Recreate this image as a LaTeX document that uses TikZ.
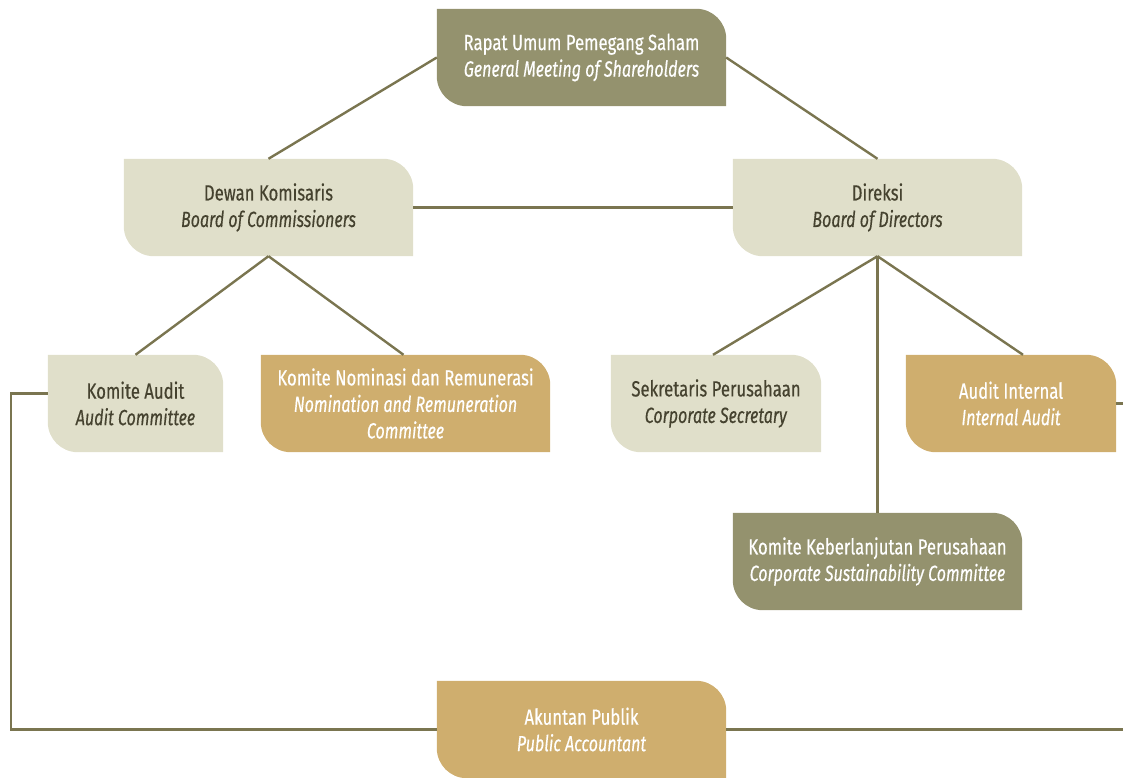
\documentclass[tikz,border=0pt]{standalone}
\usepackage{fontspec}
\setmainfont{Fira Sans}[FakeStretch=0.76,FakeBold=0.4,ItalicFeatures={FakeStretch=0.73}]
\usetikzlibrary{backgrounds,calc}
\definecolor{olivedark}{HTML}{94926E}
\definecolor{lightbox}{HTML}{E0DFCA}
\definecolor{goldbox}{HTML}{CFAE6E}
\definecolor{linecol}{HTML}{7A7550}
\definecolor{darktext}{HTML}{45422F}
\tikzset{
  orgbox/.style={minimum height=97pt, inner sep=0pt, align=center, font=\fontsize{22}{26.5}\selectfont},
  ondark/.style={orgbox, text=white},
  onlight/.style={orgbox, text=darktext},
  link/.style={draw=linecol, line width=2.4pt},
}
\newcommand\boxshape[2]{%
  \fill[#2] (#1.north west) -- ([xshift=-30pt]#1.north east) arc[start angle=90,end angle=0,radius=30pt] -- (#1.south east) -- ([xshift=30pt]#1.south west) arc[start angle=270,end angle=180,radius=30pt] -- cycle;}
\begin{document}
\begin{tikzpicture}[x=1pt,y=1pt]
\useasboundingbox (0,0) rectangle (1123,777);
\node[ondark, minimum width=289pt] (gms) at (581.5,719.5) {Rapat Umum Pemegang Saham\\\textit{General Meeting of Shareholders}};
\node[onlight, minimum width=289pt] (dk) at (268.5,569.5) {Dewan Komisaris\\\textit{Board of Commissioners}};
\node[onlight, minimum width=289pt] (dir) at (877.5,569.5) {Direksi\\\textit{Board of Directors}};
\node[onlight, minimum width=175pt] (ka) at (135.5,373.5) {Komite Audit\\\textit{Audit Committee}};
\node[ondark, minimum width=289pt] (knr) at (405.5,373.5) {Komite Nominasi dan Remunerasi\\\textit{Nomination and Remuneration}\\\textit{Committee}};
\node[onlight, minimum width=210pt] (sp) at (716,373.5) {Sekretaris Perusahaan\\\textit{Corporate Secretary}};
\node[ondark, minimum width=210pt] (ai) at (1011,373.5) {Audit Internal\\\textit{Internal Audit}};
\node[ondark, minimum width=289pt] (kkp) at (877.5,215.5) {Komite Keberlanjutan Perusahaan\\\textit{Corporate Sustainability Committee}};
\node[ondark, minimum width=289pt] (ap) at (581.5,47.5) {Akuntan Publik\\\textit{Public Accountant}};
\coordinate (leftx) at (11,0);
\coordinate (rtop) at (1123,373.5);
\coordinate (rbot) at (1123,47.5);
\begin{scope}[on background layer]
\boxshape{gms}{olivedark}
\boxshape{dk}{lightbox}
\boxshape{dir}{lightbox}
\boxshape{ka}{lightbox}
\boxshape{knr}{goldbox}
\boxshape{sp}{lightbox}
\boxshape{ai}{goldbox}
\boxshape{kkp}{olivedark}
\boxshape{ap}{goldbox}
\end{scope}
\draw[link] (gms.west) -- (dk.north);
\draw[link] (gms.east) -- (dir.north);
\draw[link] (dk.east) -- (dir.west);
\draw[link] (dk.south) -- (ka.north);
\draw[link] (dk.south) -- ([xshift=-2pt]knr.north);
\draw[link] (dir.south) -- ([xshift=-3pt]sp.north);
\draw[link] (dir.south) -- ([xshift=12pt]ai.north);
\draw[link] (dir.south) -- (kkp.north);
\draw[link] ([yshift=10pt]ka.west) -| (leftx |- ap.west) -- (ap.west);
\draw[link] (ai.east) -- (rtop);
\draw[link] (ap.east) -- (rbot);
\end{tikzpicture}
\end{document}
